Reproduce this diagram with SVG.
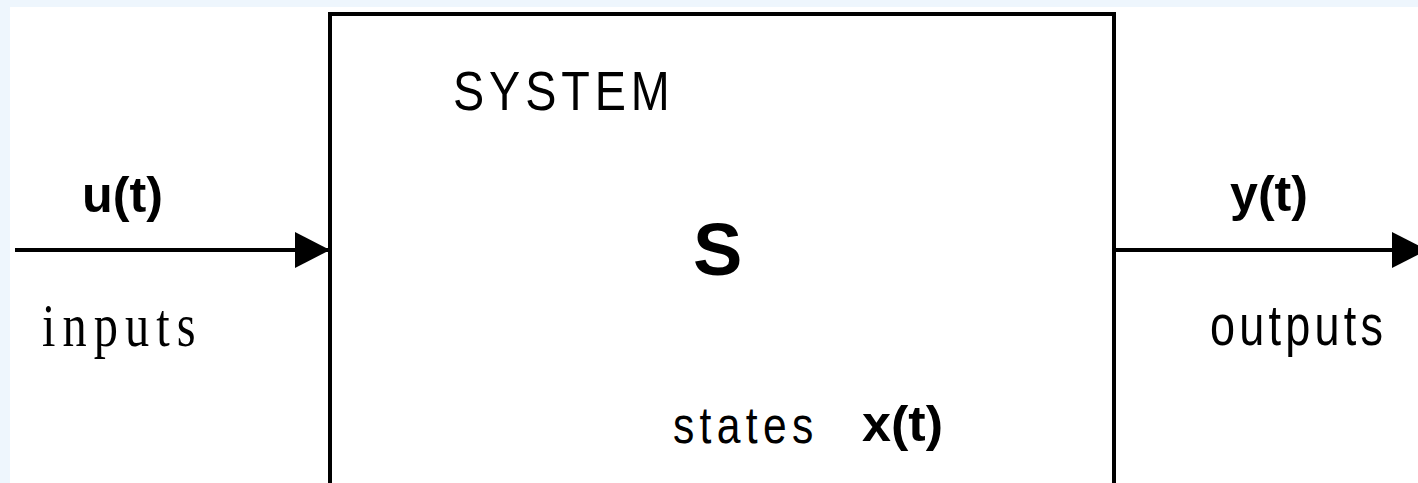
<svg xmlns="http://www.w3.org/2000/svg" width="1418" height="483" viewBox="0 0 1418 483">
<style>
.sans{font-family:"Liberation Sans",Arial,sans-serif;fill:#000}
.serif{font-family:"Liberation Serif","Times New Roman",serif;fill:#000}
.b{font-weight:bold}
.line{stroke:#000;stroke-width:4;fill:none}
</style>
<defs>
<marker id="ah" markerWidth="35" markerHeight="36" refX="35" refY="18" orient="auto" markerUnits="userSpaceOnUse">
<path d="M0,0 L35,18 L0,36 Z" fill="#000"/>
</marker>
</defs>
<rect x="0" y="0" width="1418" height="483" fill="#eef6fd"/>
<rect x="10" y="7" width="1408" height="476" fill="#ffffff"/>
<g id="system">
<path class="line" d="M330,490 V14 H1114 V490"/>
<text class="sans" font-size="55" transform="translate(453,110) scale(0.85,1)" textLength="255" lengthAdjust="spacing">SYSTEM</text>
<text class="sans b" font-size="74" x="693" y="275">S</text>
<text class="sans" font-size="52" transform="translate(673,443) scale(0.82,1)" textLength="171" lengthAdjust="spacing">states</text>
<text class="sans b" font-size="50" x="862" y="441" textLength="81" lengthAdjust="spacingAndGlyphs">x(t)</text>
</g>
<g id="input">
<text class="sans b" font-size="50" x="82" y="212" textLength="81" lengthAdjust="spacingAndGlyphs">u(t)</text>
<text class="serif" font-size="62" transform="translate(42,346) scale(0.78,1)" textLength="197" lengthAdjust="spacing">inputs</text>
</g>
<g id="output">
<text class="sans b" font-size="50" x="1230" y="211" textLength="78" lengthAdjust="spacingAndGlyphs">y(t)</text>
<text class="sans" font-size="57" transform="translate(1210,345) scale(0.79,1)" textLength="219" lengthAdjust="spacing">outputs</text>
</g>
<g id="connectors">
<line class="line" x1="15" y1="250" x2="330" y2="250" marker-end="url(#ah)"/>
<line class="line" x1="1114" y1="250" x2="1427" y2="250" marker-end="url(#ah)"/>
</g>
</svg>
